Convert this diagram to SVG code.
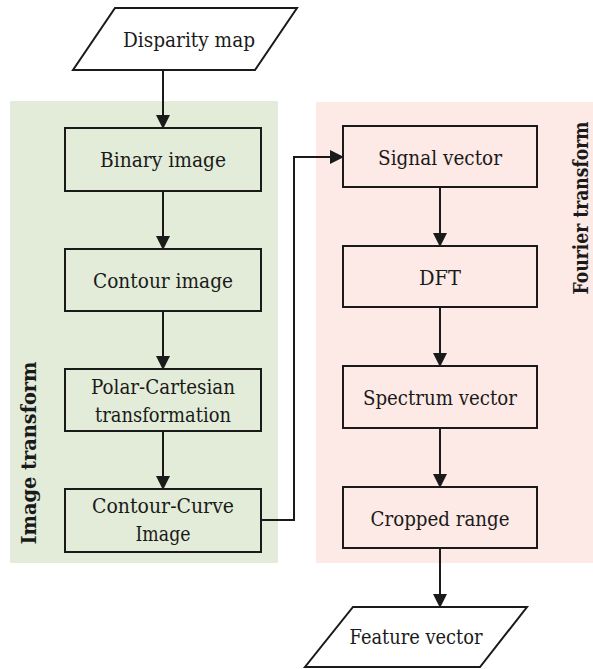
<svg xmlns="http://www.w3.org/2000/svg" width="593" height="669" viewBox="0 0 593 669">
  <style>
    .box { stroke: #1a1a1a; stroke-width: 2; }
    .green { fill: #e2ecd8; }
    .pink { fill: #fde9e5; }
    .io { fill: #ffffff; stroke: #1a1a1a; stroke-width: 2; }
    .lbl { font-family: 'DejaVu Serif', serif; font-size: 20px; fill: #1a1a1a; text-anchor: middle; }
    .title { font-family: 'DejaVu Serif', serif; font-size: 20px; font-weight: bold; fill: #1a1a1a; text-anchor: middle; }
    .link { fill: none; stroke: #1a1a1a; stroke-width: 2; }
  </style>
  <defs>
    <marker id="arrow" markerUnits="userSpaceOnUse" markerWidth="14" markerHeight="14" viewBox="0 0 14 14" refX="13" refY="7" orient="auto">
      <path d="M0,0 L14,7 L0,14 Z" fill="#1a1a1a"/>
    </marker>
  </defs>

  <!-- stage backgrounds -->
  <g id="image-transform-stage">
    <rect x="10" y="101" width="268" height="462" fill="#e2ecd8"/>
    <text class="title" transform="translate(36,453) rotate(-90)" textLength="183" lengthAdjust="spacingAndGlyphs">Image transform</text>
  </g>
  <g id="fourier-transform-stage">
    <rect x="316" y="102" width="277" height="461" fill="#fde9e5"/>
    <text class="title" transform="translate(588,208) rotate(-90)" textLength="173" lengthAdjust="spacingAndGlyphs">Fourier transform</text>
  </g>

  <!-- connectors -->
  <g id="connectors">
    <line class="link" x1="163" y1="70" x2="163" y2="128" marker-end="url(#arrow)"/>
    <line class="link" x1="163" y1="191" x2="163" y2="249" marker-end="url(#arrow)"/>
    <line class="link" x1="163" y1="311" x2="163" y2="369" marker-end="url(#arrow)"/>
    <line class="link" x1="163" y1="431" x2="163" y2="489" marker-end="url(#arrow)"/>
    <polyline class="link" stroke-width="1.6" points="261,520 294,520 294,157 343,157" marker-end="url(#arrow)"/>
    <line class="link" x1="440" y1="187" x2="440" y2="246" marker-end="url(#arrow)"/>
    <line class="link" x1="440" y1="307" x2="440" y2="366" marker-end="url(#arrow)"/>
    <line class="link" x1="440" y1="428" x2="440" y2="487" marker-end="url(#arrow)"/>
    <line class="link" x1="440" y1="548" x2="440" y2="607" marker-end="url(#arrow)"/>
  </g>

  <!-- input -->
  <g id="disparity-map">
    <polygon class="io" points="115,8 297,8 255,70 73,70"/>
    <text class="lbl" x="189" y="47" textLength="132" lengthAdjust="spacingAndGlyphs">Disparity map</text>
  </g>

  <!-- image transform nodes -->
  <g id="binary-image">
    <rect class="box green" x="65" y="128" width="196" height="63"/>
    <text class="lbl" x="163" y="167" textLength="126" lengthAdjust="spacingAndGlyphs">Binary image</text>
  </g>
  <g id="contour-image">
    <rect class="box green" x="65" y="249" width="196" height="62"/>
    <text class="lbl" x="163" y="288" textLength="140" lengthAdjust="spacingAndGlyphs">Contour image</text>
  </g>
  <g id="polar-cartesian">
    <rect class="box green" x="65" y="369" width="196" height="62"/>
    <text class="lbl" x="163" y="394" textLength="144" lengthAdjust="spacingAndGlyphs">Polar-Cartesian</text>
    <text class="lbl" x="163" y="422" textLength="136" lengthAdjust="spacingAndGlyphs">transformation</text>
  </g>
  <g id="contour-curve-image">
    <rect class="box green" x="65" y="489" width="196" height="63"/>
    <text class="lbl" x="163" y="513" textLength="142" lengthAdjust="spacingAndGlyphs">Contour-Curve</text>
    <text class="lbl" x="163" y="541" textLength="55" lengthAdjust="spacingAndGlyphs">Image</text>
  </g>

  <!-- fourier transform nodes -->
  <g id="signal-vector">
    <rect class="box pink" x="343" y="126" width="194" height="61"/>
    <text class="lbl" x="440" y="165" textLength="124" lengthAdjust="spacingAndGlyphs">Signal vector</text>
  </g>
  <g id="dft">
    <rect class="box pink" x="343" y="246" width="194" height="61"/>
    <text class="lbl" x="440" y="285" textLength="42" lengthAdjust="spacingAndGlyphs">DFT</text>
  </g>
  <g id="spectrum-vector">
    <rect class="box pink" x="343" y="366" width="194" height="62"/>
    <text class="lbl" x="440" y="405" textLength="154" lengthAdjust="spacingAndGlyphs">Spectrum vector</text>
  </g>
  <g id="cropped-range">
    <rect class="box pink" x="343" y="487" width="194" height="61"/>
    <text class="lbl" x="440" y="526" textLength="139" lengthAdjust="spacingAndGlyphs">Cropped range</text>
  </g>

  <!-- output -->
  <g id="feature-vector">
    <polygon class="io" points="353,607 527,607 480,667 305,667"/>
    <text class="lbl" x="416" y="644" textLength="133" lengthAdjust="spacingAndGlyphs">Feature vector</text>
  </g>
</svg>
